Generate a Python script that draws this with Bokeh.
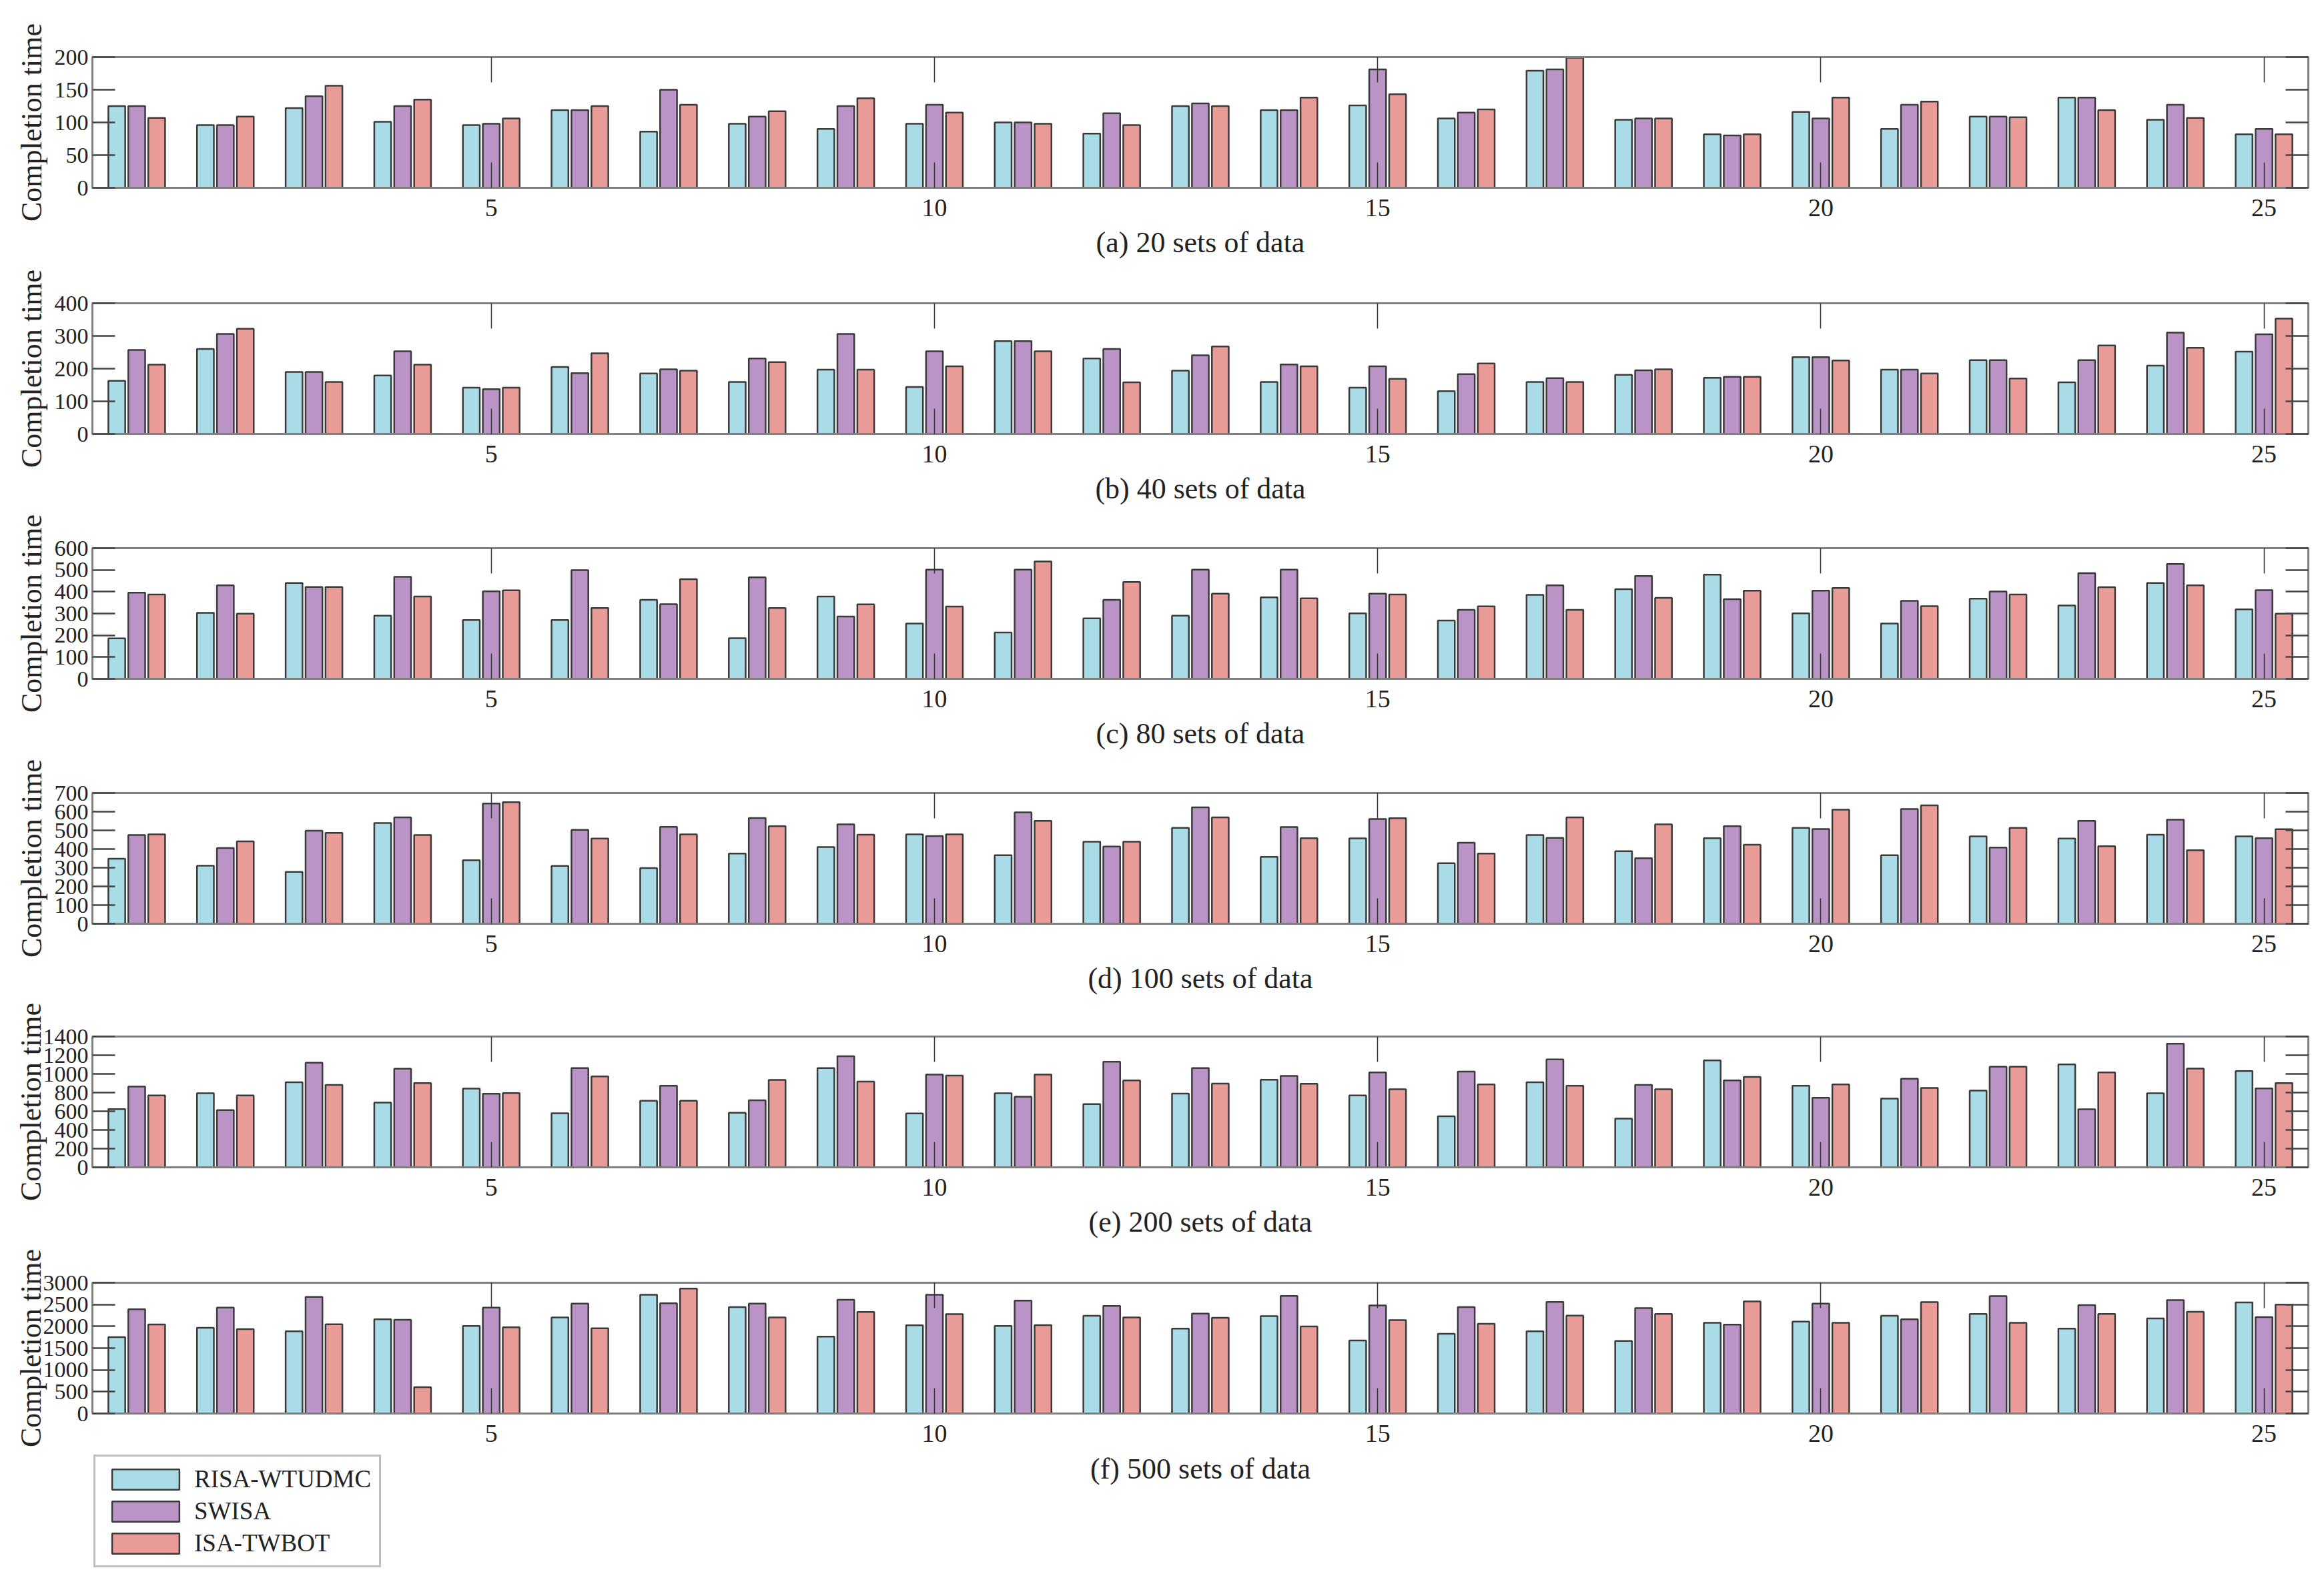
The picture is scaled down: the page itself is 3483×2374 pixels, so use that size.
from bokeh.plotting import figure
from bokeh.models import Range1d, FixedTicker, LinearAxis, Legend, LegendItem, ColumnDataSource, Label
from bokeh.layouts import column
from bokeh.transform import dodge
from bokeh.embed import file_html
from bokeh.resources import INLINE

groups = list(range(1, 26))
series_names = ["RISA-WTUDMC", "SWISA", "ISA-TWBOT"]
x_ticks = [5, 10, 15, 20, 25]

# (a) 20 sets of data
a_risa = [125, 96, 122, 101, 96, 119, 86, 98, 90, 98, 100, 83, 125, 119, 126, 106, 179, 104, 82, 116, 90, 109, 138, 104, 82]
a_swisa = [125, 96, 140, 125, 98, 119, 150, 109, 125, 127, 100, 114, 129, 119, 181, 115, 181, 106, 80, 106, 127, 109, 138, 127, 90]
a_isa = [107, 109, 156, 135, 106, 125, 127, 117, 137, 115, 98, 96, 125, 138, 143, 120, 199, 106, 82, 138, 132, 108, 119, 107, 82]

# (b) 40 sets of data
b_risa = [163, 260, 190, 179, 142, 205, 185, 159, 197, 144, 284, 231, 194, 159, 142, 131, 159, 181, 172, 235, 197, 226, 158, 209, 252]
b_swisa = [257, 306, 190, 253, 137, 186, 198, 231, 306, 253, 284, 260, 241, 213, 207, 183, 171, 195, 175, 235, 197, 226, 226, 310, 305]
b_isa = [212, 322, 159, 212, 142, 247, 194, 220, 197, 207, 253, 158, 268, 207, 169, 216, 159, 198, 175, 225, 185, 170, 271, 264, 353]

# (c) 80 sets of data
c_risa = [186, 303, 440, 290, 270, 270, 363, 187, 378, 254, 213, 278, 290, 374, 301, 268, 386, 412, 478, 301, 254, 368, 337, 440, 319]
c_swisa = [396, 429, 422, 468, 402, 499, 343, 466, 286, 501, 501, 363, 501, 501, 391, 317, 429, 472, 366, 405, 358, 401, 485, 527, 407]
c_isa = [387, 299, 422, 378, 406, 325, 458, 325, 342, 332, 539, 445, 391, 370, 387, 333, 317, 372, 405, 417, 334, 387, 421, 429, 299]

# (d) 100 sets of data
d_risa = [348, 311, 278, 539, 340, 310, 298, 376, 411, 479, 367, 439, 513, 358, 457, 324, 475, 388, 458, 513, 367, 468, 456, 477, 468]
d_swisa = [475, 405, 498, 570, 644, 503, 519, 566, 532, 470, 596, 413, 623, 518, 561, 434, 460, 351, 522, 507, 614, 408, 551, 557, 458]
d_isa = [479, 441, 487, 475, 651, 456, 479, 522, 477, 479, 551, 439, 570, 458, 565, 376, 570, 532, 423, 611, 634, 513, 415, 394, 506]

# (e) 200 sets of data
e_risa = [624, 793, 911, 693, 842, 579, 712, 584, 1063, 577, 793, 676, 790, 937, 769, 546, 911, 522, 1144, 873, 736, 821, 1101, 793, 1030]
e_swisa = [864, 612, 1120, 1056, 788, 1063, 873, 717, 1189, 992, 755, 1130, 1063, 978, 1016, 1025, 1156, 883, 930, 745, 949, 1077, 622, 1324, 845]
e_isa = [769, 769, 883, 902, 795, 973, 712, 935, 918, 982, 992, 930, 897, 895, 835, 888, 873, 835, 968, 888, 850, 1077, 1016, 1058, 902]

# (f) 500 sets of data
f_risa = [1753, 1968, 1886, 2162, 2008, 2203, 2724, 2443, 1763, 2024, 2008, 2243, 1947, 2233, 1676, 1829, 1886, 1666, 2080, 2110, 2243, 2284, 1947, 2182, 2550]
f_swisa = [2392, 2428, 2673, 2152, 2428, 2520, 2530, 2520, 2611, 2724, 2591, 2468, 2294, 2698, 2478, 2443, 2560, 2417, 2039, 2520, 2162, 2693, 2489, 2601, 2213]
f_isa = [2044, 1937, 2049, 603, 1978, 1957, 2867, 2203, 2330, 2279, 2029, 2203, 2197, 1998, 2141, 2059, 2248, 2284, 2570, 2080, 2555, 2080, 2284, 2335, 2499]

titles = ["(a) 20 sets of data", "(b) 40 sets of data", "(c) 80 sets of data",
          "(d) 100 sets of data", "(e) 200 sets of data", "(f) 500 sets of data"]
y_max = [200, 400, 600, 700, 1400, 3000]
y_ticks = [[0, 50, 100, 150, 200],
           [0, 100, 200, 300, 400],
           [0, 100, 200, 300, 400, 500, 600],
           [0, 100, 200, 300, 400, 500, 600, 700],
           [0, 200, 400, 600, 800, 1000, 1200, 1400],
           [0, 500, 1000, 1500, 2000, 2500, 3000]]
data = [(a_risa, a_swisa, a_isa), (b_risa, b_swisa, b_isa), (c_risa, c_swisa, c_isa),
        (d_risa, d_swisa, d_isa), (e_risa, e_swisa, e_isa), (f_risa, f_swisa, f_isa)]

colors = ["#AADCE8", "#BB94C7", "#E99B98"]
offsets = [-0.225, 0.0, 0.225]
FONT = "Liberation Serif"
BOX = "#808080"
TXT = "#222222"
BAR_LINE = "#3a3a3a"

PAGE_W = 3467
FRAME_L, FRAME_W, FRAME_H = 138, 3321, 196
border_top = [85, 55, 53, 53, 51, 55]
border_bottom = [118, 118, 118, 118, 118, 58]

figs = []
for i in range(6):
    risa, swisa, isa = data[i]
    src = ColumnDataSource(dict(x=groups, risa=risa, swisa=swisa, isa=isa))
    p = figure(frame_width=FRAME_W, frame_height=FRAME_H,
               x_range=Range1d(0.5, 25.5), y_range=Range1d(0, y_max[i]),
               output_backend="svg", toolbar_location=None,
               min_border_left=FRAME_L, min_border_right=PAGE_W - FRAME_L - FRAME_W,
               min_border_top=border_top[i], min_border_bottom=border_bottom[i])
    p.xgrid.visible = False
    p.ygrid.visible = False
    p.outline_line_color = BOX
    p.outline_line_width = 3
    p.background_fill_color = "white"
    p.border_fill_color = "white"

    for k, col in enumerate(["risa", "swisa", "isa"]):
        p.vbar(x=dodge("x", offsets[k], range=p.x_range), top=col, width=0.19, bottom=0,
               source=src, fill_color=colors[k], line_color=BAR_LINE, line_width=2.5)

    xa = p.xaxis[0]
    xa.ticker = FixedTicker(ticks=x_ticks)
    xa.major_tick_in = 38
    xa.major_tick_out = 0
    xa.minor_tick_line_color = None
    xa.major_tick_line_color = "#333333"
    xa.major_tick_line_width = 1.5
    xa.axis_line_color = BOX
    xa.axis_line_width = 3
    xa.major_label_text_font = FONT
    xa.major_label_text_font_size = "38px"
    xa.major_label_text_color = TXT
    xa.major_label_standoff = 17
    if i < 5:
        xa.axis_label = titles[i]
        xa.axis_label_text_font = FONT
        xa.axis_label_text_font_size = "44px"
        xa.axis_label_text_font_style = "normal"
        xa.axis_label_text_color = TXT
        xa.axis_label_standoff = 12

    ya = p.yaxis[0]
    ya.ticker = FixedTicker(ticks=y_ticks[i])
    ya.major_tick_in = 34
    ya.major_tick_out = 0
    ya.minor_tick_line_color = None
    ya.major_tick_line_color = "#444444"
    ya.major_tick_line_width = 2.5
    ya.axis_line_color = BOX
    ya.axis_line_width = 3
    ya.major_label_text_font = FONT
    ya.major_label_text_font_size = "34px"
    ya.major_label_text_color = TXT
    ya.major_label_standoff = 6
    ya.axis_label = "Completion time"
    ya.axis_label_text_font = FONT
    ya.axis_label_text_font_size = "44px"
    ya.axis_label_text_font_style = "normal"
    ya.axis_label_text_color = TXT
    ya.axis_label_standoff = -9 if y_max[i] >= 1000 else 7

    top = LinearAxis(ticker=FixedTicker(ticks=x_ticks), major_tick_in=38, major_tick_out=0,
                     major_tick_line_color="#333333", major_tick_line_width=1.5,
                     minor_tick_line_color=None, axis_line_color=BOX, axis_line_width=3,
                     major_label_text_font_size="1px", major_label_text_color=None,
                     major_label_standoff=0)
    p.add_layout(top, "above")
    right = LinearAxis(ticker=FixedTicker(ticks=y_ticks[i]), major_tick_in=34, major_tick_out=0,
                       major_tick_line_color="#444444", major_tick_line_width=2.5,
                       minor_tick_line_color=None, axis_line_color=BOX, axis_line_width=3,
                       major_label_text_font_size="1px", major_label_text_color=None,
                       major_label_standoff=0)
    p.add_layout(right, "right")
    figs.append(p)

# bottom strip: title of panel (f) and the legend. Its frame is aligned with the
# panels' frames (x from FRAME_L to FRAME_L + FRAME_W), so the ranges use pixel units.
G_TOP, G_H = 2176, 182
g = figure(frame_width=FRAME_W, frame_height=G_H,
           x_range=Range1d(FRAME_L, FRAME_L + FRAME_W), y_range=Range1d(G_TOP + G_H, G_TOP),
           output_backend="svg", toolbar_location=None, x_axis_type=None, y_axis_type=None,
           min_border_left=FRAME_L, min_border_right=PAGE_W - FRAME_L - FRAME_W,
           min_border_top=0, min_border_bottom=0)
g.xgrid.visible = False
g.ygrid.visible = False
g.outline_line_color = None
g.background_fill_color = "white"
g.border_fill_color = "white"
g.add_layout(Label(x=FRAME_L + FRAME_W / 2, y=2201, text=titles[5], text_align="center",
                   text_baseline="middle", text_font=FONT, text_font_size="44px", text_color=TXT))

# legend entries are backed by (hidden) copies of the panel (f) series
f_src = ColumnDataSource(dict(x=groups, risa=f_risa, swisa=f_swisa, isa=f_isa))
legend_rends = []
for k, col in enumerate(["risa", "swisa", "isa"]):
    r = g.vbar(x="x", top=col, width=0.19, bottom=0, source=f_src,
               fill_color=colors[k], line_color=BAR_LINE, line_width=2.5, visible=False)
    legend_rends.append(r)
legend = Legend(items=[LegendItem(label=series_names[k], renderers=[legend_rends[k]]) for k in range(3)],
                location=(2, 9), orientation="vertical",
                glyph_width=126, glyph_height=38, label_height=38,
                label_text_font=FONT, label_text_font_size="37px", label_text_color=TXT,
                label_standoff=10, spacing=5, padding=12, margin=0,
                border_line_color=BOX, border_line_width=3,
                background_fill_color="white", background_fill_alpha=1.0,
                inactive_fill_alpha=0.0)
g.add_layout(legend)
figs.append(g)

layout = column(*figs, spacing=0)
open("out.html", "w").write(file_html(layout, INLINE))
